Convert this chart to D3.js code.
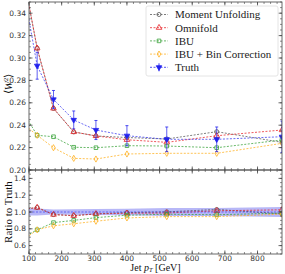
<!DOCTYPE html>
<html><head><meta charset="utf-8">
<script src="https://cdn.jsdelivr.net/npm/d3@7"></script>
<style>body{margin:0;background:#fff}svg{display:block}</style>
</head><body><svg id="c" width="285" height="274"></svg>
<script>
const pt = [75,125,175,237,305,400,522,675,875];
const truth = [0.375,0.2931,0.263,0.2447,0.2357,0.2306,0.2274,0.2274,0.2297];
const truthErr = [0.015,0.012,0.008,0.008,0.0085,0.009,0.011,0.011,0.014];
const moment = [0.385,0.3087,0.255,0.234,0.2304,0.229,0.2277,0.2342,0.2247];
const omnifold = [0.386,0.3087,0.255,0.234,0.2304,0.227,0.2247,0.2306,0.2357];
const ibu = [0.255,0.231,0.2297,0.2203,0.2199,0.2217,0.2214,0.2199,0.2268];
const ibuBC = [0.243,0.231,0.2199,0.2104,0.2098,0.2143,0.2149,0.2149,0.2238];
const seriesNames = ["Moment Unfolding","Omnifold","IBU","IBU + Bin Correction","Truth"];
const xTicks = [100,200,300,400,500,600,700,800];
const yTicksTop = [0.20,0.22,0.24,0.26,0.28,0.30,0.32,0.34];
const yTicksBot = [0.6,0.8,1.0,1.2,1.4];

const svg = d3.select("#c");
const L=29,R=282,T=2,M=170,B=254;
const x = d3.scaleLinear().domain([100,875]).range([L,R]);
const yT = d3.scaleLinear().domain([0.2,0.35]).range([M,T]);
const yB = d3.scaleLinear().domain([0.5,1.5]).range([B,M]);

const defs = svg.append("defs");
defs.append("clipPath").attr("id","cT").append("rect").attr("x",L).attr("y",T).attr("width",R-L).attr("height",M-T);
defs.append("clipPath").attr("id","cB").append("rect").attr("x",L).attr("y",M).attr("width",R-L).attr("height",B-M);

const series = [
  {name:seriesNames[0], v:moment, color:"#555555", marker:"circle"},
  {name:seriesNames[1], v:omnifold, color:"#e8262a", marker:"triangle"},
  {name:seriesNames[2], v:ibu, color:"#3aa33a", marker:"square"},
  {name:seriesNames[3], v:ibuBC, color:"#ffb020", marker:"diamond"},
];
const symMap = {circle:d3.symbolCircle, triangle:d3.symbolTriangle, square:d3.symbolSquare, diamond:d3.symbolDiamond, tdown:d3.symbolTriangle};
const mSize = {circle:13, triangle:14, square:13, diamond:11, tdown:13};
function marker(g, type, cx, cy, color, filled){
  const s = d3.symbol().type(symMap[type]).size(mSize[type]);
  g.append("path").attr("d",s()).attr("transform",`translate(${cx},${cy})${type==="tdown"?" rotate(180)":""}`)
   .attr("fill",filled?color:"none").attr("stroke",color).attr("stroke-width",0.8);
}

function drawPanel(y, clip, valsFn, band){
  const g = svg.append("g").attr("clip-path",`url(#${clip})`);
  if(band){
    const area = d3.area().x((d,i)=>x(pt[i])).y0((d,i)=>y(band.lo[i])).y1((d,i)=>y(band.hi[i]));
    g.append("path").datum(pt).attr("d",area).attr("fill","#6060ee").attr("opacity",0.45);
  }
  const line = d3.line().x((d,i)=>x(pt[i])).y(d=>y(d));
  series.forEach(s=>{
    const vals = valsFn(s.v);
    g.append("path").datum(vals).attr("d",line).attr("fill","none").attr("stroke",s.color)
      .attr("stroke-width",0.9).attr("stroke-dasharray","2,1.5").attr("opacity",0.85);
    vals.forEach((v,i)=>marker(g,s.marker,x(pt[i]),y(v),s.color,false));
  });
  return g;
}
const gT = drawPanel(yT,"cT",v=>v,null);
const tl = d3.line().x((d,i)=>x(pt[i])).y(d=>yT(d));
gT.append("path").datum(truth).attr("d",tl).attr("fill","none").attr("stroke","#2222ee").attr("stroke-width",0.9).attr("stroke-dasharray","2,1.5").attr("opacity",0.75);
truth.forEach((v,i)=>{
  gT.append("line").attr("x1",x(pt[i])).attr("x2",x(pt[i])).attr("y1",yT(v-truthErr[i])).attr("y2",yT(v+truthErr[i])).attr("stroke","#2222ee").attr("stroke-width",0.9).attr("opacity",0.8);
  [v-truthErr[i], v+truthErr[i]].forEach(e=>gT.append("line").attr("x1",x(pt[i])-1.5).attr("x2",x(pt[i])+1.5).attr("y1",yT(e)).attr("y2",yT(e)).attr("stroke","#2222ee").attr("stroke-width",0.8));
  marker(gT,"tdown",x(pt[i]),yT(v),"#2222ee",true);
});
const lo = truth.map((t,i)=>(t-truthErr[i])/t), hi = truth.map((t,i)=>(t+truthErr[i])/t);
const gB = drawPanel(yB,"cB",v=>v.map((d,i)=>d/truth[i]),{lo,hi});
gB.append("line").attr("x1",L).attr("x2",R).attr("y1",yB(1)).attr("y2",yB(1)).attr("stroke","#2222ee").attr("stroke-width",0.9).attr("stroke-dasharray","2,1.5").attr("opacity",0.6);

const frameColor="#444";
function ticksV(y, major, minorStep, dom){
  const minors = d3.range(dom[0], dom[1]+1e-9, minorStep);
  [L,R].forEach((xx,side)=>{
    const dir = side===0?1:-1;
    minors.forEach(v=>svg.append("line").attr("x1",xx).attr("x2",xx+dir*2).attr("y1",y(v)).attr("y2",y(v)).attr("stroke",frameColor).attr("stroke-width",0.6));
    major.forEach(v=>svg.append("line").attr("x1",xx).attr("x2",xx+dir*3.5).attr("y1",y(v)).attr("y2",y(v)).attr("stroke",frameColor).attr("stroke-width",0.8));
  });
  major.forEach(v=>svg.append("text").attr("x",L-3).attr("y",y(v)).attr("dy","0.35em").attr("text-anchor","end")
    .attr("font-family","DejaVu Sans").attr("font-size",7.5).attr("fill","#333").text(d3.format(v<0.5?".2f":".1f")(v)));
}
ticksV(yT, yTicksTop, 0.005, [0.2,0.35]);
ticksV(yB, yTicksBot, 0.05, [0.5,1.5]);
const xMinors = d3.range(100,876,20);
[[T,1],[M,-1],[M,1],[B,-1]].forEach(([yy,dir])=>{
  xMinors.forEach(v=>svg.append("line").attr("x1",x(v)).attr("x2",x(v)).attr("y1",yy).attr("y2",yy+dir*2).attr("stroke",frameColor).attr("stroke-width",0.6));
  xTicks.forEach(v=>svg.append("line").attr("x1",x(v)).attr("x2",x(v)).attr("y1",yy).attr("y2",yy+dir*3.5).attr("stroke",frameColor).attr("stroke-width",0.8));
});
xTicks.forEach(v=>svg.append("text").attr("x",x(v)).attr("y",B+7).attr("text-anchor","middle")
  .attr("font-family","DejaVu Sans").attr("font-size",7.5).attr("fill","#333").text(v));
svg.append("rect").attr("x",L).attr("y",T).attr("width",R-L).attr("height",M-T).attr("fill","none").attr("stroke",frameColor).attr("stroke-width",0.8);
svg.append("rect").attr("x",L).attr("y",M).attr("width",R-L).attr("height",B-M).attr("fill","none").attr("stroke",frameColor).attr("stroke-width",0.8);

const yl = svg.append("text").attr("transform",`translate(12,${(T+M)/2-2}) rotate(-90)`).attr("text-anchor","middle")
  .attr("font-family","Liberation Serif").attr("font-size",11).attr("fill","#111");
yl.append("tspan").text("⟨");
yl.append("tspan").attr("font-style","italic").text("W");
yl.append("tspan").attr("font-size",7).attr("dy",-4).text("2");
yl.append("tspan").attr("dy",4).text("⟩");
svg.append("text").attr("transform",`translate(12,${(M+B)/2}) rotate(-90)`).attr("text-anchor","middle")
  .attr("font-family","Liberation Serif").attr("font-size",11).attr("fill","#111").text("Ratio to Truth");
const xl = svg.append("text").attr("x",(L+R)/2).attr("y",270.5).attr("text-anchor","middle")
  .attr("font-family","Liberation Serif").attr("font-size",10).attr("fill","#111");
xl.append("tspan").text("Jet ");
xl.append("tspan").attr("font-style","italic").text("p");
xl.append("tspan").attr("font-style","italic").attr("font-size",6.5).attr("dy",1).text("T");
xl.append("tspan").attr("dy",-1).text(" [GeV]");

const lg = svg.append("g");
lg.append("rect").attr("x",146).attr("y",6).attr("width",132).attr("height",70).attr("rx",2)
  .attr("fill","#fff").attr("fill-opacity",0.85).attr("stroke","#ddd").attr("stroke-width",0.8);
const legendItems = series.concat([{name:seriesNames[4], color:"#2222ee", marker:"tdown"}]);
legendItems.forEach((s,i)=>{
  const yy = 14.5 + i*13.2;
  lg.append("line").attr("x1",150).attr("x2",168).attr("y1",yy).attr("y2",yy).attr("stroke",s.color).attr("stroke-width",0.9).attr("stroke-dasharray","2,1.5").attr("opacity",0.85);
  if(s.marker==="tdown"){
    lg.append("line").attr("x1",159).attr("x2",159).attr("y1",yy-4).attr("y2",yy+4).attr("stroke",s.color).attr("stroke-width",0.9);
  }
  marker(lg,s.marker,159,yy,s.color,s.marker==="tdown");
  lg.append("text").attr("x",175).attr("y",yy).attr("dy","0.35em").attr("font-family","Liberation Serif").attr("font-size",11).attr("fill","#222").text(s.name);
});
</script></body></html>
